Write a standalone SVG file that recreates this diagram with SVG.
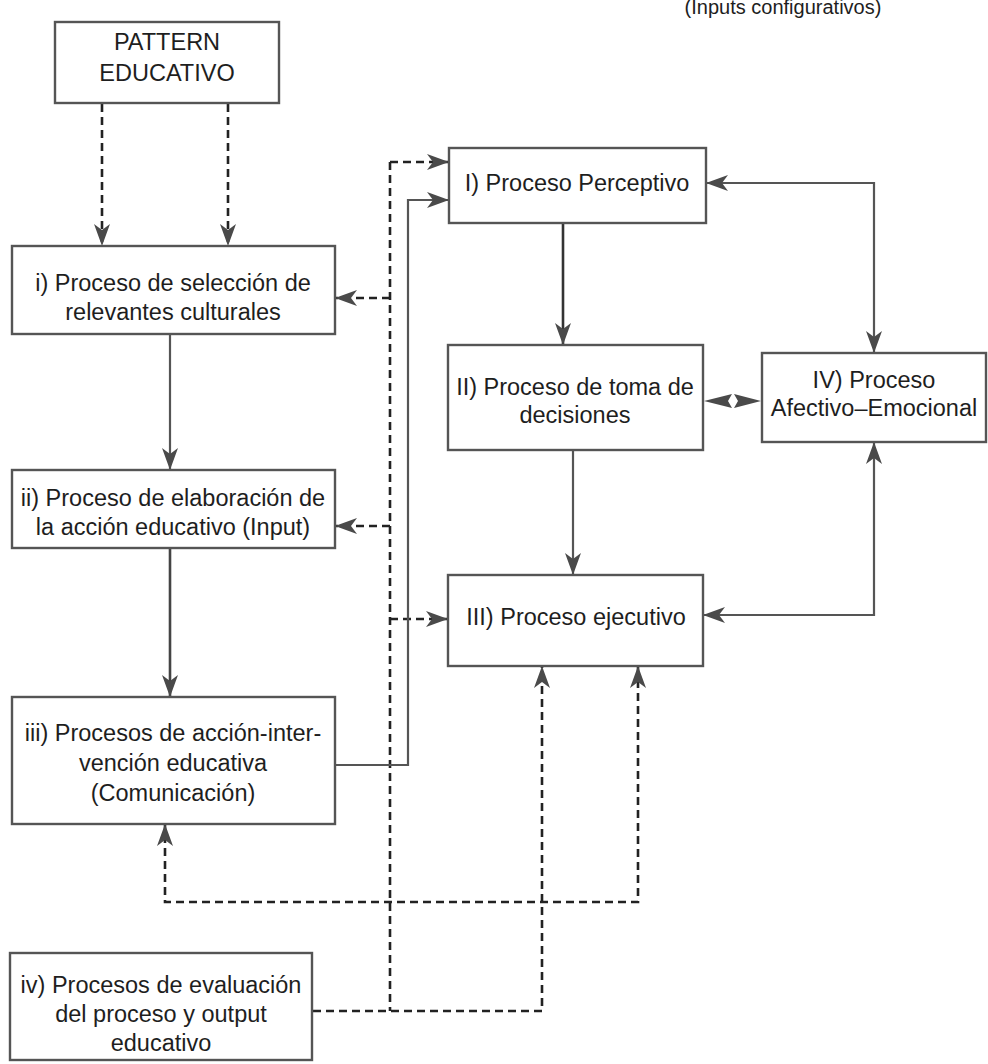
<svg xmlns="http://www.w3.org/2000/svg" width="988" height="1064" viewBox="0 0 988 1064">
<defs>
<style>
.box{fill:#fff;stroke:#555;stroke-width:2.4}
.t{font-family:"Liberation Sans",Arial,sans-serif;font-size:23.5px;fill:#1e1e1e;text-anchor:middle}
.s{fill:none;stroke:#555;stroke-width:2.2}
.d{fill:none;stroke:#222;stroke-width:2.6;stroke-dasharray:8 5}
.hd{fill:#4a4a4a}
</style>
<marker id="ah" viewBox="0 0 22 16" refX="21" refY="8" markerWidth="22" markerHeight="16" markerUnits="userSpaceOnUse" orient="auto-start-reverse">
<path d="M0,0 L22,8 L0,16 L6,8 z" fill="#4a4a4a"/>
</marker>
</defs>
<rect width="988" height="1064" fill="#fff"/>
<text class="t" x="783" y="14" style="font-size:20px">(Inputs configurativos)</text>

<g id="connectors">
<line class="d" x1="102" y1="104" x2="102" y2="245" marker-end="url(#ah)"/>
<line class="d" x1="228" y1="104" x2="228" y2="245" marker-end="url(#ah)"/>
<line class="s" x1="170" y1="334" x2="170" y2="469" marker-end="url(#ah)"/>
<line class="s" x1="170" y1="548" x2="170" y2="696" marker-end="url(#ah)" style="stroke:#444;stroke-width:2.6"/>
<line class="d" x1="390" y1="162" x2="390" y2="1011"/>
<line class="d" x1="390" y1="162" x2="448" y2="162" marker-end="url(#ah)"/>
<line class="d" x1="390" y1="298" x2="336" y2="298" marker-end="url(#ah)"/>
<line class="d" x1="390" y1="526" x2="336" y2="526" marker-end="url(#ah)"/>
<line class="d" x1="390" y1="619" x2="447" y2="619" marker-end="url(#ah)"/>
<polyline class="s" points="335,765 408,765 408,200 448,200" marker-end="url(#ah)"/>
<line class="s" x1="563" y1="223" x2="563" y2="344" marker-end="url(#ah)" style="stroke:#333;stroke-width:2.6"/>
<line class="s" x1="573" y1="450" x2="573" y2="574" marker-end="url(#ah)"/>
<polyline class="s" points="707,183 874,183 874,352" marker-start="url(#ah)" marker-end="url(#ah)"/>
<polyline class="s" points="874,443 874,615 704,615" marker-start="url(#ah)" marker-end="url(#ah)"/>
<path class="hd" d="M704,401 L732,394 L728,401 L732,408 z"/>
<path class="hd" d="M761,401 L734,394 L738,401 L734,408 z"/>
<polyline class="d" points="313,1011 542,1011 542,667" marker-end="url(#ah)"/>
<polyline class="d" points="638,667 638,902 165,902 165,825" marker-start="url(#ah)" marker-end="url(#ah)"/>
</g>

<g id="pattern">
<rect class="box" x="55" y="22" width="224" height="81"/>
<text class="t" x="167" y="50">PATTERN</text>
<text class="t" x="167" y="81">EDUCATIVO</text>
</g>
<g id="node-i">
<rect class="box" x="12" y="246" width="323" height="88"/>
<text class="t" x="173" y="291">i) Proceso de selección de</text>
<text class="t" x="173" y="320">relevantes culturales</text>
</g>
<g id="node-ii">
<rect class="box" x="12" y="470" width="323" height="78"/>
<text class="t" x="173" y="506">ii) Proceso de elaboración de</text>
<text class="t" x="173" y="535">la acción educativo (Input)</text>
</g>
<g id="node-iii">
<rect class="box" x="12" y="697" width="323" height="127"/>
<text class="t" x="173" y="741">iii) Procesos de acción-inter-</text>
<text class="t" x="173" y="771">vención educativa</text>
<text class="t" x="173" y="801">(Comunicación)</text>
</g>
<g id="node-iv">
<rect class="box" x="10" y="953" width="302" height="107"/>
<text class="t" x="161" y="993">iv) Procesos de evaluación</text>
<text class="t" x="161" y="1022">del proceso y output</text>
<text class="t" x="161" y="1051">educativo</text>
</g>
<g id="node-I">
<rect class="box" x="449" y="148" width="257" height="75"/>
<text class="t" x="577" y="191">I) Proceso Perceptivo</text>
</g>
<g id="node-II">
<rect class="box" x="448" y="345" width="255" height="105"/>
<text class="t" x="575" y="395">II) Proceso de toma de</text>
<text class="t" x="575" y="423">decisiones</text>
</g>
<g id="node-III">
<rect class="box" x="448" y="575" width="255" height="91"/>
<text class="t" x="576" y="625">III) Proceso ejecutivo</text>
</g>
<g id="node-IV">
<rect class="box" x="762" y="353" width="224" height="89"/>
<text class="t" x="874" y="388">IV) Proceso</text>
<text class="t" x="874" y="416">Afectivo–Emocional</text>
</g>
</svg>
